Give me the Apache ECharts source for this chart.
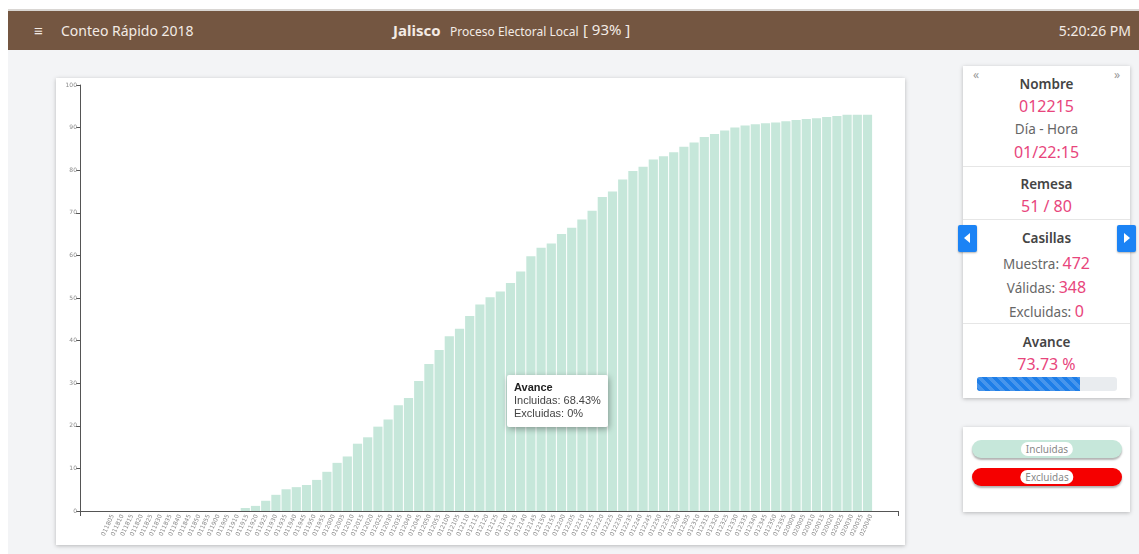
<!DOCTYPE html>
<html><head><meta charset="utf-8">
<script src="https://cdn.jsdelivr.net/npm/echarts@6/dist/echarts.min.js"></script>
<style>
html,body{margin:0;padding:0;}
body{width:1139px;height:554px;background:#fff;overflow:hidden;position:relative;font-family:'Noto Sans',sans-serif;}
#bg{position:absolute;left:8px;top:10px;right:0;bottom:0;background:#f3f4f6;}
#topline{position:absolute;left:8px;top:9px;right:0;height:2px;background:#d9d6d3;}
#header{position:absolute;left:8px;top:11px;right:0;height:39px;background:#745641;color:#f3ebe5;}
#header .menu{position:absolute;left:26px;top:9px;font-size:15px;}
#header .app{position:absolute;left:53px;top:10px;font-size:14px;}
#header .state{position:absolute;left:385px;top:9px;font-size:15px;font-weight:bold;}
#header .proc{position:absolute;left:442px;top:12px;font-size:12px;}
#header .pct{position:absolute;left:575px;top:8px;font-size:15px;}
#header .time{position:absolute;right:8px;top:10px;font-size:14px;}
.card{position:absolute;background:#fff;box-shadow:0 1px 4px rgba(0,0,0,0.25);}
#chartcard{left:56px;top:78px;width:849px;height:467px;}
#chart{position:absolute;left:0;top:0;width:849px;height:467px;}
#tip{position:absolute;left:507px;top:375px;width:101px;height:52px;background:#fff;box-shadow:1px 2px 6px rgba(0,0,0,0.35);border-radius:2px;font-family:'Liberation Sans',Arial,sans-serif;font-size:11px;color:#444;box-sizing:border-box;padding:6px 7px;line-height:13px;}
#tip b{color:#222;}
#info{left:963px;top:66px;width:167px;height:332px;}
#info .t{position:absolute;left:0;width:167px;text-align:center;white-space:nowrap;}
.h{font-size:13.5px;color:#444;font-weight:600;}
.g{font-size:13.5px;color:#666;}
.p{font-size:16px;color:#e8457c;}
.div{position:absolute;left:0;width:167px;height:1px;background:#e6e6e6;}
.arr{position:absolute;top:0px;font-size:12px;color:#999;}
.btn{position:absolute;top:225px;width:19px;height:27px;background:#1b83f5;border-radius:2px;box-shadow:0 1px 2px rgba(0,0,0,0.3);}
.btn:after{content:'';position:absolute;top:8px;border-top:5px solid transparent;border-bottom:5px solid transparent;}
#bl{left:958px;}#bl:after{left:6px;border-right:6px solid #fff;}
#br{left:1117px;}#br:after{left:7px;border-left:6px solid #fff;}
#prog{position:absolute;left:14px;top:311px;width:140px;height:14px;background:#e9ecef;border-radius:3px;overflow:hidden;}
#prog div{width:73.73%;height:100%;background-color:#1e7ee8;background-image:linear-gradient(45deg,rgba(255,255,255,.18) 25%,transparent 25%,transparent 50%,rgba(255,255,255,.18) 50%,rgba(255,255,255,.18) 75%,transparent 75%,transparent);background-size:10px 10px;}
#legend{left:963px;top:427px;width:167px;height:85px;}
.pill{position:absolute;left:9px;width:150px;height:18px;border-radius:9px;box-shadow:0 2px 2px rgba(0,0,0,0.3);}
.pill span{position:absolute;left:50%;top:2px;transform:translateX(-50%);background:#fff;border-radius:7px;height:14px;line-height:14px;padding:0 5px;font-size:10px;color:#888;}
</style></head>
<body>
<div id="bg"></div>
<div id="topline"></div>
<div id="header">
 <div class="menu">&#8801;</div>
 <div class="app">Conteo Rápido 2018</div>
 <div class="state">Jalisco</div>
 <div class="proc">Proceso Electoral Local</div>
 <div class="pct">[ 93% ]</div>
 <div class="time">5:20:26 PM</div>
</div>
<div class="card" id="chartcard"><div id="chart"></div>
</div>
<div id="tip"><b>Avance</b><br>Incluidas: 68.43%<br>Excluidas: 0%</div>
<div class="card" id="info">
 <div class="arr" style="left:10px;">&#171;</div>
 <div class="arr" style="right:10px;">&#187;</div>
 <div class="t h" style="top:9px;">Nombre</div>
 <div class="t p" style="top:29px;">012215</div>
 <div class="t g" style="top:54px;">Día - Hora</div>
 <div class="t p" style="top:75px;">01/22:15</div>
 <div class="div" style="top:100px;"></div>
 <div class="t h" style="top:109px;">Remesa</div>
 <div class="t p" style="top:129px;">51 / 80</div>
 <div class="div" style="top:153px;"></div>
 <div class="t h" style="top:163px;">Casillas</div>
 <div class="t g" style="top:186px;">Muestra: <span class="p">472</span></div>
 <div class="t g" style="top:210px;">Válidas: <span class="p">348</span></div>
 <div class="t g" style="top:234px;">Excluidas: <span class="p">0</span></div>
 <div class="div" style="top:257px;"></div>
 <div class="t h" style="top:267px;">Avance</div>
 <div class="t p" style="top:287px;">73.73 %</div>
 <div id="prog"><div></div></div>
</div>
<div class="btn" id="bl"></div>
<div class="btn" id="br"></div>
<div class="card" id="legend">
 <div class="pill" style="top:13px;background:#c6e7da;"><span>Incluidas</span></div>
 <div class="pill" style="top:41px;background:#f50000;"><span>Excluidas</span></div>
</div>
<script>
const categories = [
 '011805','011810','011815','011820','011825','011830','011835','011840','011845','011850','011855',
 '011900','011905','011910','011915','011920','011925','011930','011935','011940','011945','011950','011955',
 '012000','012005','012010','012015','012020','012025','012030','012035','012040','012045','012050','012055',
 '012100','012105','012110','012115','012120','012125','012130','012135','012140','012145','012150','012155',
 '012200','012205','012210','012215','012220','012225','012230','012235','012240','012245','012250','012255',
 '012300','012305','012310','012315','012320','012325','012330','012335','012340','012345','012350','012355',
 '020000','020005','020010','020015','020020','020025','020030','020035','020040'
];
const incluidas = [
 0,0,0,0,0,0,0,0,0,0,0,0,0,0,0,0,
 0.7,1.2,2.4,3.8,5.1,5.6,6.1,7.3,9.2,11.3,
 12.8,15.8,17.3,19.8,21.5,24.8,26.5,30.5,34.5,37.8,
 41.0,42.8,45.8,48.5,50.2,51.5,53.5,56.2,59.8,61.8,
 62.8,65.0,66.5,68.43,70.5,73.7,75.0,77.8,79.8,80.8,
 82.5,83.3,84.2,85.5,86.5,87.8,88.5,89.3,90.0,90.5,
 90.8,91.0,91.2,91.5,91.8,92.0,92.2,92.5,92.7,93.0,
 93.0,93.0,
 null,null
];
const excluidas = [
 0,0,0,0,0,0,0,0,0,0,0,0,0,0,0,0,
 0,0,0,0,0,0,0,0,0,0,0,0,0,0,0,0,0,0,0,0,0,0,0,0,
 0,0,0,0,0,0,0,0,0,0,0,0,0,0,0,0,0,0,0,0,0,0,0,0,
 0,0,0,0,0,0,0,0,0,0,0,0,0,0,
 null,null
];
const yTicks = {min:0, max:100, interval:10};

const chart = echarts.init(document.getElementById('chart'), null, {renderer:'canvas'});
chart.setOption({
  animation:false,
  grid:[
    {left:21, top:7, right:12, bottom:34},   // bars
    {left:52, top:7, right:29, bottom:34},   // x tick labels
    {left:24, top:7, right:7, bottom:34}     // axis frame
  ],
  xAxis:[
    {gridIndex:0, type:'category', data:categories,
     axisLine:{show:false}, axisTick:{show:false}, axisLabel:{show:false}, splitLine:{show:false}},
    {gridIndex:1, type:'category', data:categories,
     axisLine:{show:false}, axisTick:{show:false},
     axisLabel:{interval:0, rotate:65, fontSize:6, color:'#888', margin:4, fontFamily:'DejaVu Sans'},
     splitLine:{show:false}},
    {gridIndex:2, type:'value', min:0, max:1, interval:1,
     axisLine:{show:true, lineStyle:{color:'#555', width:1}},
     axisTick:{show:true, length:5, lineStyle:{color:'#555'}},
     axisLabel:{show:false}, splitLine:{show:false}}
  ],
  yAxis:[
    {gridIndex:0, type:'value', min:yTicks.min, max:yTicks.max, interval:yTicks.interval, show:false},
    {gridIndex:1, type:'value', min:yTicks.min, max:yTicks.max, show:false},
    {gridIndex:2, type:'value', min:yTicks.min, max:yTicks.max, interval:yTicks.interval,
     axisLine:{show:true, lineStyle:{color:'#555', width:1}},
     axisTick:{show:true, length:4, lineStyle:{color:'#555'}},
     axisLabel:{fontSize:6, color:'#888', margin:3, fontFamily:'DejaVu Sans'},
     splitLine:{show:false}}
  ],
  series:[
    {name:'Incluidas', type:'bar', stack:'a', xAxisIndex:0, yAxisIndex:0, data:incluidas, barCategoryGap:'10%', itemStyle:{color:'#c6e7da'}},
    {name:'Excluidas', type:'bar', stack:'a', xAxisIndex:0, yAxisIndex:0, data:excluidas, itemStyle:{color:'#f50000'}}
  ]
});
</script>
</body></html>
